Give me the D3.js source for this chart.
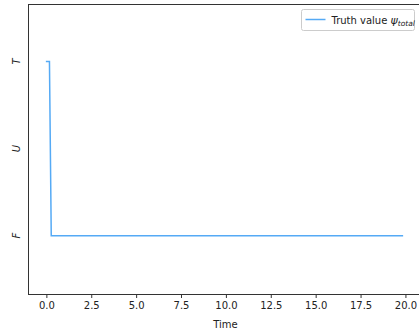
<!DOCTYPE html>
<html>
<head>
<meta charset="utf-8">
<script src="https://cdn.jsdelivr.net/npm/d3@7"></script>
<style>
  body { margin: 0; background: #fff; }
  svg { display: block; font-family: "DejaVu Sans", sans-serif; }
</style>
</head>
<body>
<div id="viz"></div>
<script>
// values
var times = [0, 0.2, 0.3, 19.9];
var truth = ["T", "T", "F", "F"];
var states = ["F", "U", "T"];
var xTicks = [0, 2.5, 5, 7.5, 10, 12.5, 15, 17.5, 20];

var width = 419, height = 334;
var margin = { top: 4, left: 28, right: -2, bottom: 40 };

var svg = d3.select("#viz").append("svg")
  .attr("width", width)
  .attr("height", height);

var x_scale = d3.scaleLinear()
  .domain([-0.995, 20.895])
  .range([margin.left, width - margin.right]);

var y_scale = d3.scaleLinear()
  .domain([-0.67, 2.66])
  .range([height - margin.bottom, margin.top]);

var yIndex = function(s){ return states.indexOf(s); };

// frame
svg.append("rect")
  .attr("x", x_scale.range()[0] + 0.5)
  .attr("y", y_scale.range()[1] + 0.5)
  .attr("width", x_scale.range()[1] - x_scale.range()[0])
  .attr("height", y_scale.range()[0] - y_scale.range()[1])
  .attr("fill", "none")
  .attr("stroke", "#333")
  .attr("stroke-width", 1);

// x axis
var x_axis = d3.axisBottom(x_scale)
  .tickValues(xTicks)
  .tickSize(3.5)
  .tickPadding(4)
  .tickFormat(d3.format(".1f"));

var gx = svg.append("g")
  .attr("transform", "translate(0.5," + (y_scale.range()[0] + 0.5) + ")")
  .call(x_axis);
gx.select(".domain").remove();
gx.selectAll("line").attr("stroke", "#333");
gx.selectAll("text")
  .attr("font-size", 10)
  .attr("font-family", "DejaVu Sans, sans-serif")
  .attr("fill", "#222");

svg.append("text")
  .attr("x", (x_scale(0) + x_scale(20)) / 2)
  .attr("y", 328)
  .attr("text-anchor", "middle")
  .attr("font-size", 10)
  .attr("fill", "#222")
  .text("Time");

// y labels (no tick marks)
svg.selectAll(".ylab")
  .data(states)
  .enter()
  .append("text")
  .attr("class", "ylab")
  .attr("transform", function(d){ return "translate(20," + y_scale(yIndex(d)) + ")rotate(-90)"; })
  .attr("text-anchor", "middle")
  .attr("font-size", 10)
  .attr("font-style", "italic")
  .attr("fill", "#222")
  .text(function(d){ return d; });

// line
var line = d3.line()
  .x(function(d, i){ return x_scale(times[i]); })
  .y(function(d){ return y_scale(yIndex(d)); });

svg.append("path")
  .datum(truth)
  .attr("d", line)
  .attr("fill", "none")
  .attr("stroke", "#55aaf5")
  .attr("stroke-width", 1.5);

// legend
var lg = svg.append("g").attr("transform", "translate(301.5,9.5)");
lg.append("rect")
  .attr("width", 113)
  .attr("height", 21)
  .attr("rx", 2)
  .attr("fill", "#fff")
  .attr("stroke", "#ccc");
lg.append("line")
  .attr("x1", 4).attr("x2", 24)
  .attr("y1", 10).attr("y2", 10)
  .attr("stroke", "#55aaf5")
  .attr("stroke-width", 1.5);
var lt = lg.append("text")
  .attr("x", 30)
  .attr("y", 14)
  .attr("font-size", 10)
  .attr("fill", "#222");
lt.append("tspan").text("Truth value ");
lt.append("tspan").attr("font-style", "italic").attr("font-size", 11).text("ψ");
lt.append("tspan").attr("font-style", "italic").attr("font-size", 7.5).attr("dy", 2).text("total");
</script>
</body>
</html>
